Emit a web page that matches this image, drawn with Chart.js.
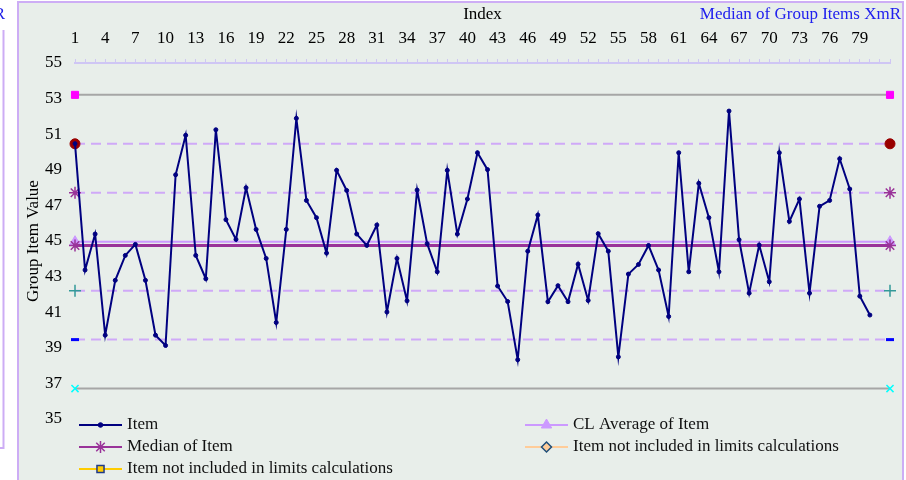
<!DOCTYPE html>
<html><head><meta charset="utf-8">
<script src="https://cdn.jsdelivr.net/npm/chart.js@4.4.1/dist/chart.umd.min.js"></script>
<style>html,body{margin:0;padding:0;background:#fff;overflow:hidden}#wrap{position:relative;width:906px;height:480px}canvas{display:block}</style>
</head><body><div id="wrap"><canvas id="c" width="906" height="480"></canvas></div>
<script>
// ---- data ----
const categories = ['1','2','3','4','5','6','7','8','9','10','11','12','13','14','15','16','17','18','19','20',
  '21','22','23','24','25','26','27','28','29','30','31','32','33','34','35','36','37','38','39','40',
  '41','42','43','44','45','46','47','48','49','50','51','52','53','54','55','56','57','58','59','60',
  '61','62','63','64','65','66','67','68','69','70','71','72','73','74','75','76','77','78','79','80','81','82'];
const itemValues = [50.47,43.37,45.39,39.71,42.79,44.19,44.81,42.79,39.71,39.13,
  48.72,50.94,44.19,42.88,51.25,46.20,45.09,47.99,45.65,44.02,
  40.42,45.65,51.89,47.28,46.31,44.32,48.97,47.84,45.39,44.75,
  45.90,41.01,44.02,41.64,47.86,44.85,43.27,48.97,45.39,47.36,
  49.96,49.01,42.47,41.60,38.33,44.43,46.46,41.59,42.49,41.59,
  43.70,41.66,45.41,44.43,38.49,43.14,43.68,44.75,43.37,40.76,
  49.96,43.27,48.24,46.31,43.27,52.30,45.07,42.07,44.77,42.71,
  49.96,46.10,47.36,42.07,46.95,47.28,49.62,47.92,41.90,40.84];
const uclValue = 53.21;
const plus2Value = 50.46;
const plus1Value = 47.71;
const clValue = 44.96;
const medianValue = 44.75;
const minus1Value = 42.21;
const minus2Value = 39.46;
const lclValue = 36.71;
const yTicks = [35,37,39,41,43,45,47,49,51,53,55];
const xLabelEvery = 3;
const xLastLabel = '79';

const FONT = '"Liberation Serif", "Times New Roman", serif';
const FS = 17;
const DASH_COLOR = '#CFA9F8';

function ends(r){ return categories.map((_, i) => (i === 0 || i === categories.length - 1) ? r : 0); }
function limitLine(label, value, color, width, dash, pStyle, pFill, pStroke, pRadius, pBw){
  return {
    label, data: categories.map(() => value),
    borderColor: color, borderWidth: width, borderDash: dash, tension: 0, fill: false, clip: false,
    pointStyle: pStyle, pointRadius: ends(pRadius), pointHoverRadius: 0,
    pointBackgroundColor: pFill, pointBorderColor: pStroke, pointBorderWidth: pBw
  };
}

const frame = {
  id: 'frame',
  beforeDraw(chart){
    const ctx = chart.ctx;
    ctx.save();
    ctx.fillStyle = '#fff'; ctx.fillRect(0, 0, 906, 480);
    ctx.fillStyle = '#E8EEEA'; ctx.fillRect(18, 2, 885, 478);
    ctx.strokeStyle = '#CDADF5'; ctx.lineWidth = 2;
    ctx.strokeRect(18, 2, 885, 500);
    // fragment of neighbouring chart on the left
    ctx.beginPath(); ctx.moveTo(3.5, 30); ctx.lineTo(3.5, 448); ctx.lineTo(-2, 448); ctx.stroke();
    ctx.fillStyle = '#1F1FE8'; ctx.font = FS + 'px ' + FONT; ctx.textAlign = 'right'; ctx.textBaseline = 'middle';
    ctx.fillText('XmR', 5, 15);
    ctx.restore();
  },
  afterDraw(chart){
    const ctx = chart.ctx, H = Chart.helpers;
    ctx.save();
    // chart title
    ctx.font = FS + 'px ' + FONT; ctx.textBaseline = 'middle';
    ctx.fillStyle = '#2020EE'; ctx.textAlign = 'right';
    ctx.fillText('Median of Group Items XmR', 901, 15);
    // legend
    const rows = [425, 447, 469];
    const entries = [
      {x: 79, y: rows[0], line: '#000080', lw: 2, style: 'circle', r: 2.3, fill: '#000080', stroke: '#000080', bw: 1, text: 'Item'},
      {x: 79, y: rows[1], line: '#993399', lw: 2, style: 'star', r: 6, fill: '#993399', stroke: '#993399', bw: 1.5, text: 'Median of Item'},
      {x: 79, y: rows[2], line: '#FFCC00', lw: 2, style: 'rect', r: 5, fill: '#FFCC00', stroke: '#1F3A8A', bw: 1.5, text: 'Item not included in limits calculations'},
      {x: 525, y: rows[0], line: '#CC99FF', lw: 2, style: 'triangle', r: 6, fill: '#CC99FF', stroke: '#CC99FF', bw: 1, text: 'CL Average of Item'},
      {x: 525, y: rows[1], line: '#FFCC99', lw: 2, style: 'rectRot', r: 5, fill: '#FFCC99', stroke: '#1F4E79', bw: 1.5, text: 'Item not included in limits calculations'}
    ];
    entries.forEach(e => {
      ctx.strokeStyle = e.line; ctx.lineWidth = e.lw; ctx.setLineDash([]);
      ctx.beginPath(); ctx.moveTo(e.x, e.y); ctx.lineTo(e.x + 43, e.y); ctx.stroke();
      ctx.fillStyle = e.fill; ctx.strokeStyle = e.stroke; ctx.lineWidth = e.bw;
      H.drawPoint(ctx, {pointStyle: e.style, radius: e.r, borderWidth: e.bw, rotation: 0}, e.x + 21.5, e.y);
      ctx.fillStyle = '#111'; ctx.textAlign = 'left'; ctx.textBaseline = 'middle';
      ctx.font = FS + 'px ' + FONT;
      ctx.fillText(e.text, e.x + 48, e.y);
    });
    ctx.restore();
  }
};

new Chart(document.getElementById('c'), {
  type: 'line',
  data: {
    labels: categories,
    datasets: [
      {label: 'Item', data: itemValues, borderColor: '#000080', borderWidth: 2, tension: 0, fill: false, clip: false,
       pointStyle: 'circle', pointRadius: 2, pointHoverRadius: 0, pointBackgroundColor: '#000080', pointBorderColor: '#000080', pointBorderWidth: 1},
      limitLine('UCL', uclValue, '#A6A6A6', 2, [], 'rect', '#FF00FF', '#FF00FF', 5, 1),
      limitLine('+2 Sigma', plus2Value, DASH_COLOR, 2, [10, 6], 'circle', '#990000', '#990000', 5, 1),
      limitLine('+1 Sigma', plus1Value, DASH_COLOR, 2, [10, 6], 'star', '#993399', '#993399', 6, 1.5),
      limitLine('Median of Item', medianValue, '#993399', 3, [], 'star', '#993399', '#993399', 6, 1.5),
      limitLine('CL Average of Item', clValue, '#CC99FF', 2, [], 'triangle', '#CC99FF', '#CC99FF', 6, 1),
      limitLine('-1 Sigma', minus1Value, DASH_COLOR, 2, [10, 6], 'cross', '#339999', '#339999', 6, 1.5),
      limitLine('-2 Sigma', minus2Value, DASH_COLOR, 2, [10, 6], 'line', '#0000FF', '#0000FF', 4, 3),
      limitLine('LCL', lclValue, '#A6A6A6', 2, [], 'crossRot', '#00FFFF', '#00FFFF', 5, 1.5)
    ]
  },
  options: {
    responsive: false, animation: false, devicePixelRatio: 1,
    layout: {padding: {left: 18, right: 16, top: 0, bottom: 61}},
    plugins: {legend: {display: false}, title: {display: false}, tooltip: {enabled: false}},
    events: [],
    scales: {
      x: {
        type: 'category', position: 'top', offset: false,
        grid: {display: true, drawOnChartArea: false, drawTicks: true, tickLength: 4, color: '#CFC6F4', lineWidth: 1},
        border: {display: true, color: '#CFC6F4', width: 2},
        ticks: {autoSkip: false, maxRotation: 0, minRotation: 0, padding: 10, color: '#000',
          font: {family: FONT, size: FS},
          callback: function(v, i){
            const lab = categories[i];
            return (i % xLabelEvery === 0 && Number(lab) <= Number(xLastLabel)) ? lab : '';
          }},
        title: {display: true, text: 'Index', color: '#000', font: {family: FONT, size: FS}, padding: {top: 4, bottom: 0}},
        afterFit: s => { s.height = 63; }
      },
      y: {
        min: 35, max: 55, position: 'left',
        afterBuildTicks: s => { s.ticks = yTicks.map(v => ({value: v})); },
        ticks: {padding: 13, color: '#000', font: {family: FONT, size: FS}},
        grid: {display: false, drawTicks: false},
        border: {display: false},
        title: {display: true, text: 'Group Item Value', color: '#000', font: {family: FONT, size: FS}, padding: {top: 5, bottom: 0}},
        afterFit: s => { s.width = 57; }
      }
    }
  },
  plugins: [frame]
});
</script>
</body></html>
